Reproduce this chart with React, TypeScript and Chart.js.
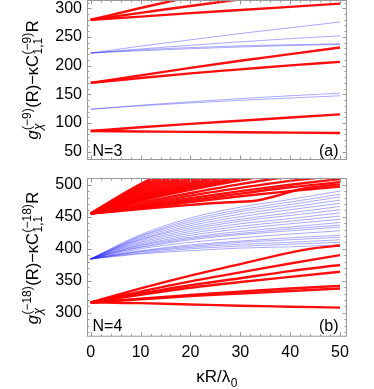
import React, { useEffect, useRef } from "react";
import { Chart, registerables } from "chart.js";

Chart.register(...registerables);

const FONT = "'Liberation Sans', Arial, sans-serif";

// ---------- panel (a): N=3 ----------
const xA = [0, 10, 20, 30, 40, 50];
const topRed280 = [
  [280, 300.5, 320, 338, 355, 371],
  [280, 292, 304, 315.5, 326, 336],
  [280, 285.5, 291.5, 297, 302.5, 308],
];
const topBlue222 = [
  [222, 234, 245, 256, 266, 276],
  [222, 229, 235.5, 241.5, 247, 252],
  [222, 227.5, 231.5, 234.5, 236.5, 238],
  [222, 226, 229.5, 232.5, 235, 237],
];
const topRed170 = [
  [170, 183, 196, 208.5, 220, 231.5],
  [170, 178.5, 186.5, 193.5, 200.5, 206.5],
];
const topBlue124 = [
  [124, 131, 137, 142.5, 147.5, 152],
  [124, 130, 135, 139.5, 143.5, 147.5],
];
const topRed86 = [
  [86, 92.5, 98.5, 104, 109.5, 115],
  [86, 85.3, 84.6, 84, 83.3, 82.6],
];
const yTicksA = [50, 100, 150, 200, 250, 300];

// ---------- panel (b): N=4 ----------
const xB = [0, 5, 10, 20, 30, 40, 50];
const botRed455 = [
  [455, 479, 501, 540, 575, 605, 630],
  [455, 477.5, 498, 534, 565, 592, 615],
  [455, 476, 495, 528, 556, 580, 600],
  [455, 474.5, 492.5, 523, 549, 571, 590],
  [455, 473, 490, 518, 542, 562, 580],
  [455, 472, 487.5, 514, 536.5, 555.5, 572],
  [455, 471, 485, 510, 531, 549, 565],
  [455, 470, 483, 506.5, 526.5, 543.5, 558.5],
  [455, 469, 481, 503, 522, 538, 552],
  [455, 468, 479.5, 500, 518, 533, 546.5],
  [455, 467, 478, 497, 514, 528, 541],
  [455, 466, 476.5, 494.5, 510.5, 524, 536],
  [455, 465, 475, 492, 507, 520, 531],
  [455, 464, 472, 487, 501, 513, 523],
  [455, 462, 469, 483, 495, 506, 515],
  [455, 461, 467, 479, 490, 500, 509],
  [455, 460, 465, 476, 486, 496, 504],
  [455, 459, 463, 473, 482, 490, 497],
];
const xKink = [0, 10, 20, 25, 30, 33, 37, 42, 46, 50];
const botRedKink = [455, 462, 468.5, 471.5, 473.5, 475, 482, 493, 497.5, 500.5];
const botBlue384 = [
  [384, 404, 422, 448, 465, 477, 490],
  [384, 403, 420, 445, 461, 473, 485],
  [384, 402, 419, 442, 458, 469, 481],
  [384, 401, 417, 439, 454, 465, 476],
  [384, 401, 415, 436, 450, 461, 471],
  [384, 400, 414, 433, 446, 456, 466],
  [384, 399, 412, 430, 443, 452, 461],
  [384, 398, 410, 427, 439, 447, 456],
  [384, 397, 408, 424, 435, 443, 451],
  [384, 396, 406, 421, 431, 439, 446],
  [384, 395, 405, 418, 427, 434, 441],
  [384, 394, 403, 416, 424, 431, 437],
  [384, 394, 402, 414, 422, 428, 434],
  [384, 392, 400, 410, 417, 423, 428],
  [384, 391, 397, 406, 412, 417, 421],
  [384, 390, 396, 404, 410, 414, 418],
  [384, 390, 395, 402, 407, 410, 414],
  [384, 389, 393, 400, 404, 407, 410],
  [384, 388, 392, 397, 401, 403, 406],
];
const xR1 = [0, 10, 20, 30, 40, 45, 50];
const botRed316Top = [316, 338, 358, 376, 394, 401, 405];
const botRed316 = [
  [316, 325, 333, 349, 363, 377, 390],
  [316, 323, 330, 343, 354, 365, 374.5],
  [316, 322, 328, 339, 348, 356, 364],
  [316, 319, 322, 328, 333, 338, 342],
  [316, 318.5, 321, 326, 330, 334, 338],
  [316, 315.5, 315, 313, 311, 309.5, 308],
];
const yTicksB = [300, 350, 400, 450, 500];
const xTicks = [0, 10, 20, 30, 40, 50];

const RED = "rgba(255,0,0,0.95)";
const BLUE = "rgba(40,40,255,0.5)";
const RED_W = 2.4;
const BLUE_W = 0.8;

function range(a: number, b: number, s: number) {
  const out: number[] = [];
  for (let v = a; v <= b + 1e-9; v += s) out.push(v);
  return out;
}

function series(xs: number[], ys: number[], color: string, width: number) {
  return {
    data: xs.map((x, i) => ({ x, y: ys[i] })),
    borderColor: color,
    borderWidth: width,
    pointRadius: 0,
    cubicInterpolationMode: "monotone" as const,
    fill: false,
    clip: 0,
  };
}

const framePlugin = {
  id: "frame",
  afterDatasetsDraw(chart: any, _a: any, opts: any) {
    const { ctx, chartArea: a, scales } = chart;
    const x = scales.x, y = scales.y;
    ctx.save();
    ctx.strokeStyle = "#999999";
    ctx.lineWidth = 1;
    ctx.strokeRect(a.left + 0.5, a.top + 0.5, a.right - a.left - 1, a.bottom - a.top - 1);
    ctx.beginPath();
    for (const v of opts.xMinor) {
      const px = Math.round(x.getPixelForValue(v)) + 0.5;
      const len = opts.xMajor.includes(v) ? 4.5 : 2.5;
      ctx.moveTo(px, a.bottom);
      ctx.lineTo(px, a.bottom - len);
      ctx.moveTo(px, a.top);
      ctx.lineTo(px, a.top + len);
    }
    for (const v of opts.yMinor) {
      const py = Math.round(y.getPixelForValue(v)) + 0.5;
      if (py < a.top || py > a.bottom) continue;
      const len = opts.yMajor.includes(v) ? 4.5 : 2.5;
      ctx.moveTo(a.left, py);
      ctx.lineTo(a.left + len, py);
      ctx.moveTo(a.right, py);
      ctx.lineTo(a.right - len, py);
    }
    ctx.stroke();
    ctx.restore();
  },
};

type Seg = { t: string; it?: boolean } | { sup: string; sub: string; subIt?: boolean };

function drawRich(ctx: CanvasRenderingContext2D, segs: Seg[], cx: number, cy: number, vertical: boolean, big: number, small: number) {
  const f = (size: number, it?: boolean) => `${it ? "italic " : ""}${size}px ${FONT}`;
  const widths = segs.map((s) => {
    if ("t" in s) {
      ctx.font = f(big, s.it);
      return ctx.measureText(s.t).width;
    }
    ctx.font = f(small);
    const a = ctx.measureText(s.sup).width;
    ctx.font = f(small, s.subIt);
    const b = ctx.measureText(s.sub).width;
    return Math.max(a, b) + 1;
  });
  const total = widths.reduce((p, c) => p + c, 0);
  ctx.save();
  ctx.translate(cx, cy);
  if (vertical) ctx.rotate(-Math.PI / 2);
  ctx.fillStyle = "#000";
  ctx.textAlign = "left";
  ctx.textBaseline = "alphabetic";
  let x = -total / 2;
  segs.forEach((s, i) => {
    if ("t" in s) {
      ctx.font = f(big, s.it);
      ctx.fillText(s.t, x, 0);
    } else {
      ctx.font = f(small);
      if (s.sup) ctx.fillText(s.sup, x + 0.5, -big * 0.45);
      ctx.font = f(small, s.subIt);
      if (s.sub) ctx.fillText(s.sub, x + 0.5, big * 0.27);
    }
    x += widths[i];
  });
  ctx.restore();
}

const textPlugin = {
  id: "texts",
  afterDraw(chart: any, _a: any, opts: any) {
    const ctx: CanvasRenderingContext2D = chart.ctx;
    const a = chart.chartArea;
    ctx.save();
    ctx.fillStyle = "#000";
    ctx.font = `16px ${FONT}`;
    ctx.textBaseline = "middle";
    ctx.textAlign = "left";
    ctx.fillText(opts.nLabel, a.left + 5.5, opts.labelY);
    ctx.textAlign = "right";
    ctx.fillText(opts.tag, a.right - 8.5, opts.labelY);
    ctx.restore();
    drawRich(ctx, opts.yTitle, 38, opts.yTitleY, true, 16.5, 12);
    if (opts.xTitle) drawRich(ctx, opts.xTitle, 217, opts.xTitleY, false, 17, 12);
  },
};

const yTitleA: Seg[] = [
  { t: "g", it: true },
  { sup: "(−9)", sub: "χ", subIt: true },
  { t: "(R)−κC" },
  { sup: "(−9)", sub: "1,1" },
  { t: "R" },
];
const yTitleB: Seg[] = [
  { t: "g", it: true },
  { sup: "(−18)", sub: "χ", subIt: true },
  { t: "(R)−κC" },
  { sup: "(−18)", sub: "1,1" },
  { t: "R" },
];
const xTitle: Seg[] = [{ t: "κR/λ" }, { sup: "", sub: "0" }];

function yScale(min: number, max: number, ticks: number[]) {
  return {
    type: "linear" as const,
    min,
    max,
    afterBuildTicks: (s: any) => {
      s.ticks = ticks.map((v) => ({ value: v }));
    },
    afterFit: (s: any) => {
      s.width = 87;
      s.paddingTop = 0;
      s.paddingBottom = 0;
    },
    grid: { display: false, drawTicks: false },
    border: { display: false },
    ticks: { font: { size: 16, family: FONT }, color: "#000", padding: 5 },
  };
}

export default function App() {
  const topRef = useRef<HTMLCanvasElement>(null);
  const botRef = useRef<HTMLCanvasElement>(null);

  useEffect(() => {
    const dsA: any[] = [];
    topRed280.forEach((l) => dsA.push(series(xA, l, RED, RED_W)));
    topRed170.forEach((l) => dsA.push(series(xA, l, RED, RED_W)));
    topRed86.forEach((l) => dsA.push(series(xA, l, RED, RED_W)));
    topBlue222.forEach((l) => dsA.push(series(xA, l, BLUE, BLUE_W)));
    topBlue124.forEach((l) => dsA.push(series(xA, l, BLUE, BLUE_W)));

    const chartA = new Chart(topRef.current!, {
      type: "line",
      data: { datasets: dsA },
      plugins: [framePlugin, textPlugin],
      options: {
        animation: false,
        responsive: false,
        events: [],
        layout: { padding: { left: 0, right: 27, top: 0, bottom: 10 } },
        plugins: {
          legend: { display: false },
          tooltip: { enabled: false },
          frame: { xMinor: range(0, 50, 2), xMajor: xTicks, yMinor: range(40, 310, 10), yMajor: yTicksA },
          texts: { nLabel: "N=3", tag: "(a)", labelY: 152, yTitle: yTitleA, yTitleY: 80 },
        } as any,
        scales: {
          x: { type: "linear", min: -0.74, max: 51.4, display: false },
          y: yScale(35.5, 314.4, yTicksA),
        } as any,
      },
    });

    const dsB: any[] = [];
    botRed455.forEach((l) => dsB.push(series(xB, l, RED, RED_W)));
    dsB.push(series(xKink, botRedKink, RED, RED_W));
    dsB.push(series(xR1, botRed316Top, RED, RED_W));
    botRed316.forEach((l) => dsB.push(series(xB, l, RED, RED_W)));
    botBlue384.forEach((l) => dsB.push(series(xB, l, BLUE, BLUE_W)));

    const chartB = new Chart(botRef.current!, {
      type: "line",
      data: { datasets: dsB },
      plugins: [framePlugin, textPlugin],
      options: {
        animation: false,
        responsive: false,
        events: [],
        layout: { padding: { left: 0, right: 27, top: 8, bottom: 0 } },
        plugins: {
          legend: { display: false },
          tooltip: { enabled: false },
          frame: { xMinor: range(0, 50, 2), xMajor: xTicks, yMinor: range(270, 510, 10), yMajor: yTicksB },
          texts: {
            nLabel: "N=4",
            tag: "(b)",
            labelY: 157,
            yTitle: yTitleB,
            yTitleY: 88,
            xTitle,
            xTitleY: 212,
          },
        } as any,
        scales: {
          x: {
            type: "linear",
            min: -0.74,
            max: 51.4,
            afterBuildTicks: (s: any) => {
              s.ticks = xTicks.map((v) => ({ value: v }));
            },
            afterFit: (s: any) => {
              s.height = 52.3;
              s.paddingLeft = 0;
              s.paddingRight = 0;
            },
            grid: { display: false, drawTicks: false },
            border: { display: false },
            ticks: { font: { size: 16, family: FONT }, color: "#000", padding: 6, maxRotation: 0 },
          },
          y: yScale(262.6, 510.5, yTicksB),
        } as any,
      },
    });

    return () => {
      chartA.destroy();
      chartB.destroy();
    };
  }, []);

  return (
    <div style={{ position: "absolute", left: 0, top: 0, width: 374, height: 389, background: "#fff" }}>
      <canvas ref={topRef} width={374} height={170} style={{ position: "absolute", left: 0, top: 0, width: 374, height: 170 }} />
      <canvas ref={botRef} width={374} height={219} style={{ position: "absolute", left: 0, top: 170, width: 374, height: 219 }} />
    </div>
  );
}
